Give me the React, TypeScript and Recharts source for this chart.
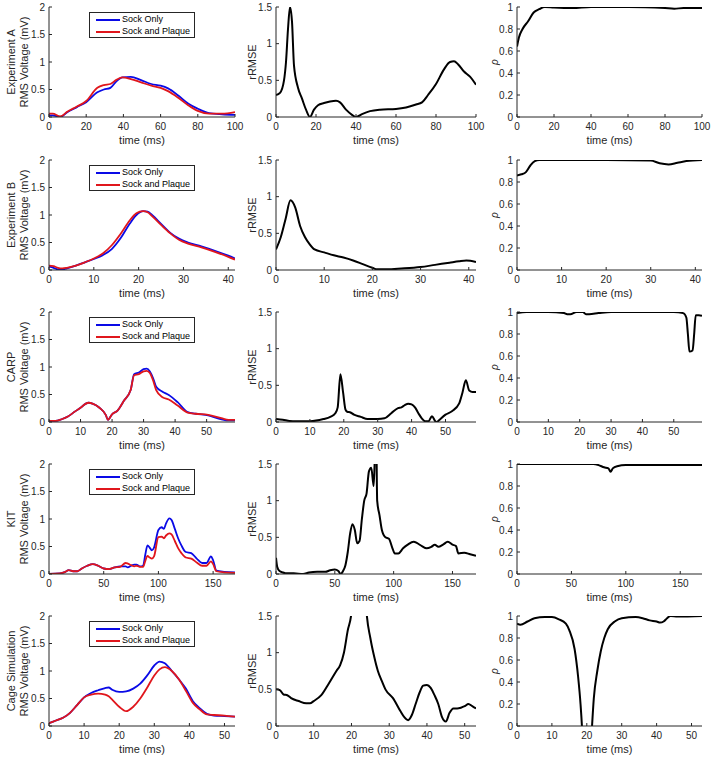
import React from 'react';
import { LineChart, Line, XAxis, YAxis, Legend } from 'recharts';

const FONT = '"Liberation Sans", Arial, Helvetica, sans-serif';
const AX = '#262626';
const BLUE = '#0a0ae6';
const RED = '#e0161c';

// ---------- Experiment A ----------
const aTime = [0, 2, 6, 10, 15, 20, 26, 29.5, 33, 36, 39.5, 44, 49.5, 55, 60, 64, 69.5, 75, 80, 86, 93, 100];
const aSock = [0.03, 0.03, 0.0, 0.09, 0.18, 0.27, 0.45, 0.5, 0.53, 0.64, 0.72, 0.73, 0.67, 0.6, 0.57, 0.52, 0.39, 0.24, 0.15, 0.07, 0.05, 0.04];
const aPlaque = [0.06, 0.06, 0.01, 0.1, 0.19, 0.29, 0.53, 0.58, 0.6, 0.67, 0.72, 0.69, 0.63, 0.57, 0.53, 0.47, 0.35, 0.21, 0.11, 0.06, 0.06, 0.09];
const aRmseTime = [0, 2, 4, 5, 6, 7, 8, 9, 11, 13, 15, 17, 19, 21, 24, 27, 30, 32, 35, 38, 40, 43, 47, 52, 60, 65, 70, 73, 76, 80, 84, 87, 89, 91, 94, 97, 100];
const aRmse = [0.3, 0.33, 0.5, 0.75, 1.2, 1.5, 1.3, 0.7, 0.4, 0.25, 0.1, 0.0, 0.1, 0.16, 0.19, 0.21, 0.22, 0.2, 0.1, 0.03, 0.0, 0.04, 0.08, 0.1, 0.11, 0.13, 0.17, 0.2, 0.3, 0.45, 0.65, 0.75, 0.76, 0.72, 0.62, 0.55, 0.44];
const aRhoTime = [0, 1, 3, 6, 9, 12, 15, 20, 30, 40, 60, 80, 85, 90, 100];
const aRho = [0.64, 0.72, 0.8, 0.87, 0.95, 0.98, 1.0, 0.995, 0.99, 1.0, 1.0, 0.99, 0.985, 0.99, 0.99];

// ---------- Experiment B ----------
const bTime = [0, 1, 2, 3, 4, 6, 8, 10, 12, 14, 16, 18, 19.5, 21, 22, 23, 25, 27, 29, 31, 34, 37, 40, 41.5];
const bSock = [0.06, 0.04, 0.01, 0.01, 0.03, 0.08, 0.14, 0.2, 0.27, 0.38, 0.58, 0.84, 1.0, 1.07, 1.06, 1.0, 0.84, 0.68, 0.57, 0.5, 0.43, 0.35, 0.26, 0.21];
const bPlaque = [0.08, 0.07, 0.04, 0.03, 0.04, 0.08, 0.14, 0.21, 0.3, 0.45, 0.66, 0.9, 1.03, 1.07, 1.05, 0.98, 0.82, 0.67, 0.55, 0.48, 0.41, 0.33, 0.24, 0.19];
const bRmseTime = [0, 1, 2, 3, 4, 5, 6, 7, 8, 10, 12, 14, 16, 18, 20, 21, 23, 26, 30, 33, 36, 38, 39.5, 41.5];
const bRmse = [0.28, 0.45, 0.7, 0.95, 0.85, 0.6, 0.45, 0.35, 0.28, 0.24, 0.2, 0.17, 0.13, 0.08, 0.03, 0.01, 0.01, 0.02, 0.04, 0.07, 0.1, 0.12, 0.13, 0.11];
const bRhoTime = [0, 1, 2, 3, 4, 5, 10, 20, 30, 32, 34, 36, 38, 41.5];
const bRho = [0.86, 0.87, 0.89, 0.95, 0.99, 1.0, 1.0, 1.0, 0.995, 0.97, 0.96, 0.975, 0.99, 1.0];

// ---------- CARP ----------
const cTime = [0, 2, 4, 6, 8, 10, 12.5, 14, 16, 18, 18.7, 20, 21.8, 23.8, 25.9, 27, 28.5, 30, 31, 32, 33, 34, 36, 38, 40.8, 44, 46.5, 50.5, 54.7, 57, 59];
const cSock = [0.02, 0.02, 0.05, 0.1, 0.18, 0.26, 0.35, 0.33, 0.26, 0.13, 0.04, 0.14, 0.21, 0.39, 0.58, 0.87, 0.9, 0.96, 0.97, 0.92, 0.8, 0.64, 0.55, 0.49, 0.36, 0.18, 0.15, 0.12, 0.05, 0.03, 0.03];
const cPlaque = [0.02, 0.02, 0.05, 0.1, 0.18, 0.26, 0.35, 0.33, 0.26, 0.13, 0.04, 0.14, 0.21, 0.39, 0.58, 0.85, 0.87, 0.92, 0.93, 0.89, 0.76, 0.58, 0.45, 0.41, 0.3, 0.17, 0.15, 0.13, 0.07, 0.04, 0.04];
const cRmseTime = [0, 2, 4, 6, 10, 14, 16, 17.5, 18.2, 19, 19.8, 20.5, 21, 22, 23, 25, 27, 30, 32, 34, 36, 37, 38, 39, 40, 41, 42, 43, 44, 45, 46, 47, 47.5, 48, 50, 52, 54, 55, 56, 57, 58, 59];
const cRmse = [0.04, 0.03, 0.015, 0.01, 0.01, 0.04, 0.07, 0.12, 0.2, 0.65, 0.4, 0.17, 0.14, 0.13, 0.1, 0.07, 0.04, 0.04, 0.05, 0.12, 0.19, 0.2, 0.23, 0.25, 0.24, 0.2, 0.12, 0.05, 0.01, 0.01, 0.08, 0.01, 0.0, 0.02, 0.1, 0.15, 0.25, 0.4, 0.57, 0.43, 0.41, 0.41];
const cRhoTime = [0, 3, 10, 15, 16, 17, 19, 21, 22, 23, 26, 30, 50, 53, 54, 54.5, 55, 56, 56.5, 57, 58, 59];
const cRho = [0.99, 1.0, 1.0, 0.99, 0.98, 0.98, 1.0, 1.0, 0.98, 0.98, 0.99, 1.0, 1.0, 0.99, 0.95, 0.8, 0.64, 0.65, 0.8, 0.97, 0.97, 0.965];

// ---------- KIT ----------
const kTime = [0, 10, 15, 18, 22, 26, 30, 35, 40, 45, 50, 55, 60, 65, 70, 72, 75, 78, 80, 83, 86, 88, 90, 92, 94, 96, 100, 103, 105, 107, 110, 112, 115, 118, 121, 125, 130, 135, 140, 144, 148, 150, 153, 160, 170];
const kSock = [0, 0.01, 0.04, 0.07, 0.05, 0.05, 0.1, 0.15, 0.18, 0.15, 0.1, 0.09, 0.12, 0.14, 0.14, 0.12, 0.15, 0.17, 0.17, 0.14, 0.15, 0.35, 0.52, 0.48, 0.43, 0.48, 0.8, 0.85, 0.82, 0.92, 1.01, 0.98, 0.82, 0.65, 0.52, 0.4, 0.38, 0.28, 0.2, 0.2, 0.32, 0.25, 0.06, 0.04, 0.03];
const kPlaque = [0, 0.01, 0.04, 0.07, 0.05, 0.05, 0.1, 0.15, 0.18, 0.15, 0.1, 0.09, 0.12, 0.13, 0.2, 0.19, 0.16, 0.14, 0.15, 0.13, 0.13, 0.24, 0.33, 0.3, 0.28, 0.32, 0.67, 0.68, 0.65, 0.7, 0.74, 0.72, 0.6, 0.47, 0.38, 0.3, 0.28, 0.21, 0.15, 0.15, 0.23, 0.18, 0.05, 0.03, 0.02];
const kRmseTime = [0, 1, 3, 6, 8, 15, 23, 28, 35, 42, 46, 50, 53, 55, 57, 59, 61, 63, 65, 67, 69, 71, 73, 75, 77, 79, 81, 83, 84, 85, 86, 88, 90, 93, 96, 99, 101, 104, 108, 112, 117, 120, 124, 128, 132, 135, 138, 142, 146, 150, 153, 155, 160, 165, 170];
const kRmse = [0.22, 0.1, 0.04, 0.02, 0.01, 0.01, 0.0, 0.02, 0.03, 0.03, 0.05, 0.06, 0.04, 0.0, 0.04, 0.12, 0.3, 0.55, 0.68, 0.6, 0.42, 0.45, 0.75, 1.0, 1.1, 1.4, 1.45, 1.2, 1.6, 2.2, 1.0, 0.8, 0.6, 0.5, 0.48, 0.35, 0.28, 0.28, 0.35, 0.4, 0.44, 0.42, 0.38, 0.35, 0.37, 0.4, 0.37, 0.4, 0.44, 0.4, 0.38, 0.28, 0.29, 0.27, 0.25];
const kRhoTime = [0, 50, 70, 75, 80, 84, 86, 88, 92, 100, 130, 150, 170];
const kRho = [1.0, 1.0, 1.0, 0.99, 0.97, 0.96, 0.93, 0.96, 0.98, 0.99, 0.99, 0.99, 0.99];

// ---------- Cage Simulation ----------
const gTime = [0, 2, 4, 6, 8, 10, 12, 14, 16, 17, 18, 20, 22, 24, 26, 28, 30, 31.5, 33, 35, 37, 39, 41, 43, 45, 47, 50, 53];
const gSock = [0.05, 0.1, 0.15, 0.24, 0.38, 0.52, 0.6, 0.65, 0.69, 0.7, 0.66, 0.62, 0.63, 0.68, 0.77, 0.92, 1.1, 1.17, 1.14, 1.0, 0.85, 0.68, 0.45, 0.32, 0.22, 0.19, 0.18, 0.17];
const gPlaque = [0.05, 0.1, 0.15, 0.24, 0.38, 0.52, 0.57, 0.59, 0.57, 0.54, 0.48, 0.35, 0.27, 0.35, 0.5, 0.7, 0.92, 1.03, 1.07, 1.0, 0.85, 0.64, 0.42, 0.3, 0.21, 0.2, 0.19, 0.17];
const gRmseTime = [0, 1, 2, 3, 4, 6, 8, 9, 10, 12, 14, 16, 17, 18, 19, 20, 21, 23, 24, 25, 26, 27, 28, 29, 31, 33, 34, 35, 36, 37, 38, 39, 40, 41, 42, 43, 44, 45, 46, 47, 48, 49, 50, 51, 52, 53];
const gRmse = [0.5, 0.49, 0.43, 0.42, 0.38, 0.34, 0.31, 0.31, 0.34, 0.42, 0.58, 0.75, 0.83, 1.0, 1.3, 1.55, 2.5, 2.5, 1.55, 1.2, 0.95, 0.75, 0.62, 0.5, 0.38, 0.2, 0.12, 0.08, 0.15, 0.3, 0.45, 0.55, 0.56, 0.52, 0.42, 0.3, 0.12, 0.06, 0.18, 0.24, 0.24, 0.25, 0.27, 0.3, 0.27, 0.24];
const gRhoTime = [0, 1, 3, 5, 8, 10, 12, 14, 15, 16.5, 17.5, 18.2, 18.6, 19, 21, 21.5, 22, 23, 24, 25, 26, 28, 30, 34, 36, 38, 40, 41, 42, 43, 44, 46, 53];
const gRho = [0.93, 0.92, 0.95, 0.98, 0.99, 0.99, 0.97, 0.93, 0.87, 0.7, 0.45, 0.2, 0.0, -0.3, -0.3, 0.0, 0.25, 0.5, 0.68, 0.8, 0.88, 0.95, 0.98, 0.99, 0.98, 0.96, 0.95, 0.94, 0.95, 0.98, 1.0, 0.995, 1.0];

// ---------- labels & ticks ----------
const rowNames = ['Experiment A', 'Experiment B', 'CARP', 'KIT', 'Cage Simulation'];
const rowXMax = [100, 41.5, 59, 170, 53];
const rowXTicks = [
  [0, 20, 40, 60, 80, 100],
  [0, 10, 20, 30, 40],
  [0, 10, 20, 30, 40, 50],
  [0, 50, 100, 150],
  [0, 10, 20, 30, 40, 50],
];
const voltTicks = [0, 0.5, 1, 1.5, 2];
const rmseTicks = [0, 0.5, 1, 1.5];
const rhoTicks = [0, 0.2, 0.4, 0.6, 0.8, 1];
const seriesNames = ['Sock Only', 'Sock and Plaque'];

const zip2 = (t: number[], a: number[], b: number[]) => t.map((x, i) => ({ t: x, s: a[i], p: b[i] }));
const zip1 = (t: number[], a: number[]) => t.map((x, i) => ({ t: x, v: a[i] }));

const voltData = [
  zip2(aTime, aSock, aPlaque),
  zip2(bTime, bSock, bPlaque),
  zip2(cTime, cSock, cPlaque),
  zip2(kTime, kSock, kPlaque),
  zip2(gTime, gSock, gPlaque),
];
const rmseData = [
  zip1(aRmseTime, aRmse),
  zip1(bRmseTime, bRmse),
  zip1(cRmseTime, cRmse),
  zip1(kRmseTime, kRmse),
  zip1(gRmseTime, gRmse),
];
const rhoData = [
  zip1(aRhoTime, aRho),
  zip1(bRhoTime, bRho),
  zip1(cRhoTime, cRho),
  zip1(kRhoTime, kRho),
  zip1(gRhoTime, gRho),
];

// ---------- layout ----------
const ROW_TOPS = [7, 160, 312, 464, 616];
const PH = 110;
const COLS = [
  { left: 49, w: 186 },
  { left: 276, w: 200 },
  { left: 517, w: 185 },
];
const ML = 48;
const MR = 12;
const MT = 7;
const MB = 34;

const YLab = (props: any) => {
  const { lines, offs, cyy, size, italic } = props;
  return (
    <g>
      {lines.map((ln: string, i: number) => {
        const cx = ML + offs[i];
        return (
          <text
            key={i}
            x={cx}
            y={cyy}
            transform={`rotate(-90, ${cx}, ${cyy})`}
            textAnchor="middle"
            dominantBaseline="central"
            fontFamily={FONT}
            fontSize={size}
            fontStyle={italic ? 'italic' : 'normal'}
            fill={AX}
          >
            {ln}
          </text>
        );
      })}
    </g>
  );
};

const XLab = (props: any) => (
  <text
    x={ML + props.pw / 2}
    y={MT + PH + 23}
    textAnchor="middle"
    dominantBaseline="central"
    fontFamily={FONT}
    fontSize={11}
    fill={AX}
  >
    time (ms)
  </text>
);

const LegendBox = () => (
  <div
    style={{
      width: 106,
      height: 26,
      boxSizing: 'border-box',
      border: `1px solid ${AX}`,
      background: '#fff',
      fontFamily: FONT,
      fontSize: 9,
      color: '#000',
      position: 'relative',
    }}
  >
    {seriesNames.map((n, i) => (
      <div key={n} style={{ position: 'absolute', left: 0, top: 1 + i * 11.5, height: 11, width: '100%' }}>
        <div
          style={{
            position: 'absolute',
            left: 6,
            top: 5,
            width: 24,
            height: 2,
            background: i === 0 ? BLUE : RED,
          }}
        />
        <span style={{ position: 'absolute', left: 32, top: 0, lineHeight: '11px', whiteSpace: 'nowrap' }}>{n}</span>
      </div>
    ))}
  </div>
);

type PanelProps = {
  col: number;
  row: number;
  data: any[];
  lines: { key: string; color: string; width: number }[];
  yMin: number;
  yMax: number;
  yTicks: number[];
  yLines: string[];
  yOffs: number[];
  ySize: number;
  italic?: boolean;
  legend?: boolean;
};

const Panel = ({ col, row, data, lines, yMin, yMax, yTicks, yLines, yOffs, ySize, italic, legend }: PanelProps) => {
  const c = COLS[col];
  const top = ROW_TOPS[row];
  const W = ML + c.w + MR;
  const H = MT + PH + MB;
  return (
    <div style={{ position: 'absolute', left: c.left - ML, top: top - MT, width: W, height: H }}>
      <LineChart width={W} height={H} data={data} margin={{ top: MT, right: MR, left: 0, bottom: 0 }}>
        <XAxis
          dataKey="t"
          type="number"
          domain={[0, rowXMax[row]]}
          ticks={rowXTicks[row]}
          allowDataOverflow
          height={MB}
          tickSize={-3}
          tickMargin={9}
          stroke={AX}
          tick={{ fill: AX, fontSize: 10, fontFamily: FONT }}
          label={<XLab pw={c.w} />}
        />
        <YAxis
          type="number"
          domain={[yMin, yMax]}
          ticks={yTicks}
          allowDataOverflow
          width={ML}
          tickSize={-3}
          tickMargin={7}
          stroke={AX}
          tick={{ fill: AX, fontSize: 10, fontFamily: FONT }}
          label={<YLab lines={yLines} offs={yOffs} cyy={MT + PH / 2} size={ySize} italic={italic} />}
        />
        {legend && (
          <Legend
            layout="vertical"
            align="center"
            verticalAlign="middle"
            content={() => <LegendBox />}
            wrapperStyle={{ left: ML + 40, top: MT + 5, width: 106 }}
          />
        )}
        {lines.map((l) => (
          <Line
            key={l.key}
            dataKey={l.key}
            type="monotone"
            stroke={l.color}
            strokeWidth={l.width}
            dot={false}
            activeDot={false}
            isAnimationActive={false}
          />
        ))}
      </LineChart>
    </div>
  );
};

export default function App() {
  return (
    <div style={{ position: 'absolute', left: 0, top: 0, width: 713, height: 759, background: '#fff', overflow: 'hidden' }}>
      {rowNames.map((name, r) => (
        <React.Fragment key={name}>
          <Panel
            col={0}
            row={r}
            data={voltData[r]}
            lines={[
              { key: 's', color: BLUE, width: 1.8 },
              { key: 'p', color: RED, width: 1.8 },
            ]}
            yMin={0}
            yMax={2}
            yTicks={voltTicks}
            yLines={[name, 'RMS Voltage (mV)']}
            yOffs={[-38, -25]}
            ySize={11}
            legend
          />
          <Panel
            col={1}
            row={r}
            data={rmseData[r]}
            lines={[{ key: 'v', color: '#000', width: 2 }]}
            yMin={0}
            yMax={1.5}
            yTicks={rmseTicks}
            yLines={['rRMSE']}
            yOffs={[-24]}
            ySize={11}
          />
          <Panel
            col={2}
            row={r}
            data={rhoData[r]}
            lines={[{ key: 'v', color: '#000', width: 2 }]}
            yMin={0}
            yMax={1}
            yTicks={rhoTicks}
            yLines={['ρ']}
            yOffs={[-23]}
            ySize={10}
            italic
          />
        </React.Fragment>
      ))}
    </div>
  );
}
